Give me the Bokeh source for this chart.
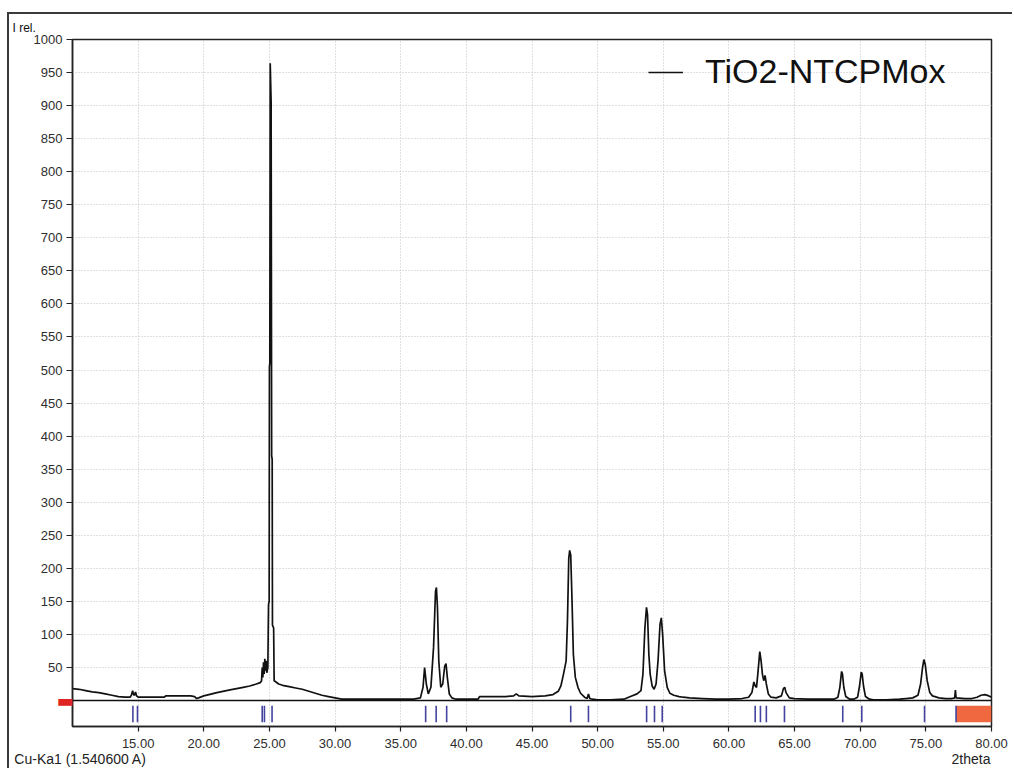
from bokeh.plotting import figure
from bokeh.models import (Range1d, FixedTicker, PrintfTickFormatter, Span,
                          Legend, LegendItem, LinearAxis)
from bokeh.embed import file_html
from bokeh.resources import INLINE

# ---------------- data ----------------
two_theta = [
    10.0, 10.5, 11.0, 11.5, 12.0, 12.5, 13.0, 13.5, 14.0, 14.4, 14.5, 14.58, 14.65, 14.72, 14.8, 14.88,
    15.0, 15.5, 16.0, 16.5, 17.0, 17.1, 17.5, 18.0, 18.5, 19.0, 19.3, 19.45, 19.6, 20.0, 21.0, 22.0,
    23.0, 23.5, 24.0, 24.3, 24.4, 24.45, 24.5, 24.55, 24.6, 24.65, 24.7, 24.75, 24.8, 24.88,
    24.93, 24.98, 25.0, 25.03, 25.06, 25.13, 25.17, 25.21, 25.23, 25.32, 25.36,
    25.5, 25.7, 26.0, 26.5, 27.0, 27.5, 28.0, 28.5, 29.0, 29.5, 30.0, 30.5, 31.0, 32.0, 33.0, 34.0,
    35.0, 36.0, 36.5, 36.7, 36.82, 36.95, 37.1, 37.3, 37.5, 37.65, 37.72, 37.8, 37.9, 38.05, 38.2,
    38.35, 38.45, 38.55, 38.7, 38.9, 39.2, 40.0, 40.9, 41.0, 42.0, 43.0, 43.6, 43.8, 44.0, 45.0, 46.0,
    46.6, 47.0, 47.2, 47.4, 47.6, 47.7, 47.8, 47.87, 47.95, 48.05, 48.15, 48.3, 48.5, 48.7, 49.0,
    49.2, 49.3, 49.4, 49.6, 50.0, 51.0, 52.0, 52.5, 53.0, 53.3, 53.45, 53.6, 53.72, 53.8, 53.9, 54.0,
    54.15, 54.3, 54.45, 54.6, 54.75, 54.85, 54.95, 55.1, 55.3, 55.5, 55.8, 56.2, 56.5, 57.0, 58.0,
    59.0, 60.0, 61.0, 61.5, 61.75, 61.9, 62.0, 62.1, 62.2, 62.35, 62.45, 62.55, 62.65, 62.75, 62.85,
    63.0, 63.2, 63.6, 64.0, 64.15, 64.25, 64.35, 64.6, 65.0, 66.0, 67.0, 68.0, 68.3, 68.45, 68.58,
    68.65, 68.75, 68.9, 69.2, 69.5, 69.8, 69.95, 70.08, 70.15, 70.25, 70.4, 70.7, 71.0, 72.0, 73.0,
    73.5, 74.0, 74.4, 74.6, 74.75, 74.85, 74.95, 75.1, 75.3, 75.5, 76.0, 76.5, 77.0, 77.2, 77.25,
    77.3, 78.0, 78.5, 78.9, 79.2, 79.5, 79.8, 80.0,
]
intensity = [
    18, 17, 15, 13, 12, 10, 8, 6, 5, 5, 9, 15, 9, 8, 13, 7,
    5, 5, 5, 5, 5, 7, 7, 7, 7, 7, 6, 3, 4, 7, 12, 16,
    20, 22, 25, 27, 30, 50, 35, 58, 40, 63, 45, 60, 42, 50,
    145, 150, 505, 510, 964, 905, 370, 365, 114, 110, 30,
    28, 25, 23, 21, 19, 17, 14, 11, 8, 6, 4, 2, 2, 2, 2, 2,
    2, 2, 4, 20, 50, 25, 10, 20, 80, 165, 171, 140, 60, 20, 25,
    52, 56, 35, 10, 4, 2, 2, 2, 6, 6, 6, 7, 10, 7, 6, 7,
    9, 14, 22, 40, 60, 120, 215, 227, 220, 150, 70, 35, 20, 11, 5,
    3, 10, 3, 2, 1, 1, 2, 6, 10, 15, 40, 110, 141, 130, 70, 40,
    22, 17, 25, 60, 115, 125, 100, 45, 20, 11, 8, 6, 5, 4, 3,
    2, 2, 3, 5, 12, 28, 22, 20, 40, 74, 60, 40, 30, 38, 25,
    10, 5, 4, 7, 18, 20, 12, 4, 3, 2, 2, 2, 5, 20, 44,
    40, 20, 6, 2, 2, 5, 22, 43, 40, 22, 6, 2, 1, 1, 2,
    3, 4, 8, 25, 50, 62, 55, 30, 12, 7, 4, 3, 3, 4, 16,
    4, 3, 3, 5, 8, 9, 7, 5,
]
ref_positions = [14.6, 14.95, 24.45, 24.62, 25.2, 36.9, 37.7, 38.5, 47.95, 49.3,
                 53.73, 54.33, 54.92, 62.0, 62.4, 62.85, 64.23, 68.67, 70.12, 74.9, 77.3]
excluded_start = [77.3]
excluded_end = [80.0]
x_ticks = [15, 20, 25, 30, 35, 40, 45, 50, 55, 60, 65, 70, 75, 80]
y_ticks = [50, 100, 150, 200, 250, 300, 350, 400, 450, 500, 550, 600, 650, 700, 750,
           800, 850, 900, 950, 1000]
y_grid = y_ticks[:-1]
x_grid = x_ticks[:-1]
series_name = "TiO2-NTCPMox"
y_title = "I rel."
wavelength_text = "Cu-Ka1 (1.540600 A)"
x_title = "2theta"

FONT = "Liberation Sans"

p = figure(width=1005, height=756, output_backend="svg", toolbar_location=None,
           x_range=Range1d(10, 80), y_range=Range1d(-39.3, 1000),
           min_border_left=63, min_border_top=25, min_border_right=23, min_border_bottom=44)
p.styles = {"margin-top": "12px", "margin-left": "7px",
            "border-top": "2px solid #3a3a3a", "border-left": "2px solid #3a3a3a"}
p.background_fill_color = "white"
p.border_fill_color = "white"
p.outline_line_color = "#222222"
p.outline_line_width = 1.5

# title "I rel." at top-left
p.title.text = y_title
p.title.align = "left"
p.title.offset = -60
p.title.standoff = 9
p.title.text_font = FONT
p.title.text_font_size = "12px"
p.title.text_font_style = "normal"
p.title.text_color = "#111111"

# axes
for ax in (p.xaxis[0], p.yaxis[0]):
    ax.axis_line_color = "#222222"
    ax.axis_line_width = 1.5
    ax.major_tick_line_color = "#222222"
    ax.major_tick_line_width = 1.2
    ax.major_tick_in = 0
    ax.minor_tick_line_color = None
    ax.major_label_text_font = FONT
    ax.major_label_text_font_size = "13px"
    ax.major_label_text_color = "#2e2e2e"

p.xaxis.ticker = FixedTicker(ticks=x_ticks)
p.xaxis.formatter = PrintfTickFormatter(format="%.2f")
p.xaxis.major_tick_out = 5
p.xaxis.major_label_standoff = 7
p.yaxis.ticker = FixedTicker(ticks=y_ticks)
p.yaxis.major_tick_out = 6
p.yaxis.major_label_standoff = 4

# second row below the x axis: wavelength text (left) and "2theta" (right)
text_pos = [10.61, 78.44]
info_axis = LinearAxis(ticker=FixedTicker(ticks=text_pos),
                       major_label_overrides={text_pos[0]: wavelength_text, text_pos[1]: x_title},
                       axis_line_color=None, major_tick_line_color=None, minor_tick_line_color=None,
                       major_tick_out=0, major_tick_in=0, major_label_standoff=0,
                       major_label_text_font=FONT, major_label_text_font_size="14px",
                       major_label_text_color="#222222")
p.add_layout(info_axis, "below")

# red zero marker left of the frame
zero_axis = LinearAxis(ticker=FixedTicker(ticks=[0]), major_label_overrides={0: "\u25ac"},
                       axis_line_color=None, major_tick_line_color=None, minor_tick_line_color=None,
                       major_tick_out=0, major_tick_in=0, major_label_standoff=-43,
                       major_label_text_font="DejaVu Sans", major_label_text_font_size="18px",
                       major_label_text_color="#e02424")
p.add_layout(zero_axis, "left")

# grid
p.xgrid.ticker = FixedTicker(ticks=x_grid)
p.ygrid.ticker = FixedTicker(ticks=y_grid)
for g in (p.xgrid[0], p.ygrid[0]):
    g.grid_line_color = "#c0c0c0"
    g.grid_line_dash = "1 2"
    g.grid_line_width = 1

# zero line
p.add_layout(Span(location=0, dimension="width", line_color="#111111", line_width=1.5))

# excluded region + reference pattern ticks
p.quad(left=excluded_start, right=excluded_end, bottom=-33, top=-8,
       fill_color="#F0683F", line_color=None)
p.segment(x0=ref_positions, y0=[-8] * len(ref_positions), x1=ref_positions,
          y1=[-33] * len(ref_positions), line_color="#4444a0", line_width=1.6)

# pattern
r = p.line(two_theta, intensity, line_color="#111111", line_width=1.7)

legend = Legend(items=[LegendItem(label=series_name, renderers=[r])],
                location=(576, 635), orientation="vertical")
legend.label_text_font = FONT
legend.label_text_font_size = "34px"
legend.label_text_color = "#111111"
legend.glyph_width = 35
legend.label_standoff = 22
legend.padding = 0
legend.margin = 0
legend.border_line_color = None
legend.background_fill_alpha = 0
p.add_layout(legend)

open("out.html", "w").write(file_html(p, INLINE))
